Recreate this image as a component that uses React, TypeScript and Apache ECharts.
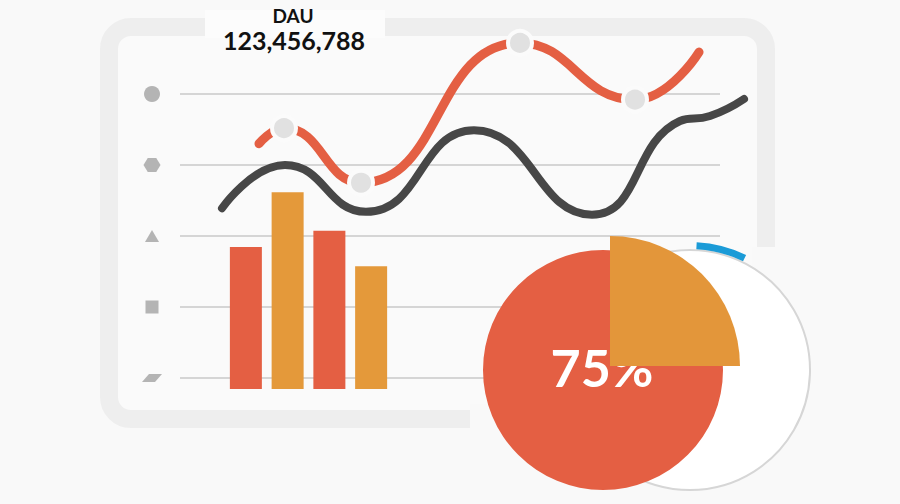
import React, { useEffect, useRef } from 'react';
import * as echarts from 'echarts';

// ---- data ----
const barCategories = ['Q1', 'Q2', 'Q3', 'Q4'];
const barValues = [2.0, 2.77, 2.23, 1.73];
const barColors = ['#e45f43', '#e4993a', '#e45f43', '#e4993a'];
const tickValues = [0, 1, 2, 3, 4];
const tickIcons = ['parallelogram', 'square', 'triangle', 'hexagon', 'circle'];
const darkLine = [
  [4.2, 2.39], [10.5, 3.0], [18.6, 2.34], [29.4, 3.49], [41.2, 2.3], [50.0, 3.62], [53.0, 3.69], [56.4, 3.93],
];
const redLine = [
  [7.9, 3.3], [10.4, 3.52], [18.1, 2.75], [34.0, 4.72], [45.5, 3.92], [51.9, 4.59],
];
const redMarkers = [false, true, true, true, true, false];
const pieShare = 75;
const dauLabel = 'DAU';
const dauValue = 123456788;
const ringArcDeg = 23;

const BG = '#f9f9f9';
const RED = '#e45f43';
const ORANGE = '#e3963a';

const iconSymbols: Record<string, { symbol: string; size: number | number[] }> = {
  circle: { symbol: 'circle', size: 16 },
  hexagon: { symbol: 'path://M5,0 L15,0 L20,8.66 L15,17.32 L5,17.32 L0,8.66 Z', size: [17, 14] },
  triangle: { symbol: 'triangle', size: [14, 12] },
  square: { symbol: 'rect', size: [13, 13] },
  parallelogram: { symbol: 'path://M7,0 L20,0 L13,8 L0,8 Z', size: [20, 8] },
};

export default function App() {
  const ref = useRef<HTMLDivElement>(null);
  useEffect(() => {
    if (!ref.current) return;
    const chart = echarts.init(ref.current, undefined, { renderer: 'svg' });
    const option: any = {
      animation: false,
      backgroundColor: BG,
      grid: [
        { left: 180, right: 180, top: 94, bottom: 126 },
        { left: 225, width: 167, top: 105, bottom: 115 },
        { left: 140, width: 24, top: 94, bottom: 126 },
        { left: 180, width: 620, top: 23, bottom: 126 },
      ],
      xAxis: [
        { gridIndex: 0, type: 'value', min: 0, max: 54, show: false },
        { gridIndex: 1, type: 'category', data: barCategories, show: false },
        { gridIndex: 2, type: 'value', min: -1, max: 1, show: false },
        { gridIndex: 3, type: 'value', min: 0, max: 62, show: false },
      ],
      yAxis: [
        {
          gridIndex: 0, type: 'value', min: 0, max: 4, interval: 1,
          axisLine: { show: false }, axisTick: { show: false }, axisLabel: { show: false },
          splitLine: { show: true, lineStyle: { color: '#c9c9c9', width: 1.5 } },
        },
        { gridIndex: 1, type: 'value', min: 0, max: 4, show: false },
        { gridIndex: 2, type: 'value', min: 0, max: 4, show: false },
        { gridIndex: 3, type: 'value', min: 0, max: 5, show: false },
      ],
      graphic: [
        {
          type: 'rect', z: -1,
          shape: { x: 109, y: 27, width: 657, height: 392, r: 22 },
          style: { fill: '#fafafa', stroke: '#eeeeee', lineWidth: 18 },
        },
        { type: 'rect', z: -1, shape: { x: 205, y: 10, width: 180, height: 28 }, style: { fill: '#fcfcfc' } },
        { type: 'rect', z: -1, shape: { x: 470, y: 404, width: 330, height: 32 }, style: { fill: BG } },
        { type: 'rect', z: -1, shape: { x: 752, y: 247, width: 30, height: 200 }, style: { fill: BG } },
        {
          type: 'text', z: 20,
          style: {
            text: dauLabel, x: 293, y: 15, textAlign: 'center', textVerticalAlign: 'middle',
            fontFamily: 'Lato', fontWeight: 'bold', fontSize: 19, fill: '#111',
          },
        },
        {
          type: 'text', z: 20,
          style: {
            text: dauValue.toLocaleString('en-US'), x: 294, y: 40, textAlign: 'center', textVerticalAlign: 'middle',
            fontFamily: 'Lato', fontWeight: 'bold', fontSize: 25, fill: '#111',
          },
        },
        {
          type: 'text', z: 50,
          style: {
            text: pieShare + '%', x: 602, y: 367, textAlign: 'center', textVerticalAlign: 'middle',
            fontFamily: 'Lato', fontWeight: 'bold', fontSize: 52, fill: '#ffffff',
          },
        },
      ],
      series: [
        {
          type: 'scatter', xAxisIndex: 2, yAxisIndex: 2, silent: true, z: 2,
          itemStyle: { color: '#a3a3a3' },
          data: tickValues.map((v, i) => ({
            value: [0, v],
            symbol: iconSymbols[tickIcons[i]].symbol,
            symbolSize: iconSymbols[tickIcons[i]].size,
          })),
        },
        {
          type: 'bar', xAxisIndex: 1, yAxisIndex: 1, barWidth: 32, silent: true, z: 2,
          data: barValues.map((v, i) => ({ value: v, itemStyle: { color: barColors[i] } })),
        },
        {
          type: 'line', xAxisIndex: 3, yAxisIndex: 3, smooth: 0.5, showSymbol: false, clip: false, silent: true, z: 3,
          lineStyle: { color: '#474747', width: 8, cap: 'round' },
          data: darkLine,
        },
        {
          type: 'line', xAxisIndex: 3, yAxisIndex: 3, smooth: 0.5, clip: false, silent: true, z: 4,
          showAllSymbol: true, symbolSize: 24,
          itemStyle: { color: '#e1e1e1', borderColor: '#fbfbfb', borderWidth: 4 },
          lineStyle: { color: RED, width: 9, cap: 'round' },
          data: redLine.map((p, i) => ({ value: p, symbol: redMarkers[i] ? 'circle' : 'none' })),
        },
        {
          type: 'pie', center: [690, 370], radius: 120, silent: true, z: 5,
          label: { show: false }, labelLine: { show: false },
          itemStyle: { color: '#ffffff', borderColor: '#d6d6d6', borderWidth: 2 },
          data: [{ value: 1 }],
        },
        {
          type: 'pie', center: [690, 370], radius: [121, 128], startAngle: 87, silent: true, z: 6,
          label: { show: false }, labelLine: { show: false },
          data: [
            { value: ringArcDeg, itemStyle: { color: '#1b9bd7' } },
            { value: 360 - ringArcDeg, itemStyle: { color: 'rgba(0,0,0,0)' } },
          ],
        },
        {
          type: 'pie', center: [603, 370], radius: 120, startAngle: 90, silent: true, z: 7,
          label: { show: false }, labelLine: { show: false },
          data: [
            { value: 100 - pieShare, itemStyle: { color: RED } },
            { value: pieShare, itemStyle: { color: RED } },
          ],
        },
        {
          type: 'pie', center: [610, 366], radius: 130, startAngle: 90, silent: true, z: 100, zlevel: 1,
          label: { show: false }, labelLine: { show: false },
          data: [
            { value: 100 - pieShare, itemStyle: { color: ORANGE } },
            { value: pieShare, itemStyle: { color: 'rgba(0,0,0,0)' } },
          ],
        },
      ],
    };
    chart.setOption(option);
    return () => chart.dispose();
  }, []);
  return <div ref={ref} style={{ position: 'fixed', left: 0, top: 0, width: 900, height: 504 }} />;
}
